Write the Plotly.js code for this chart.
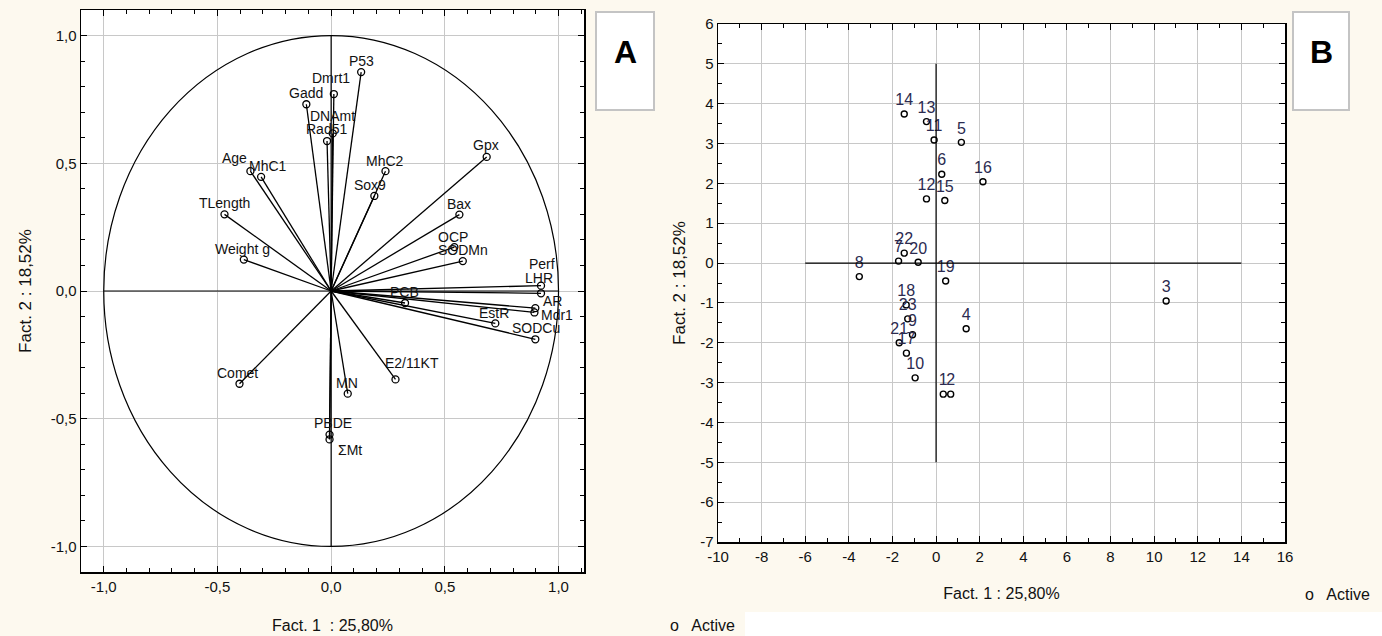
<!DOCTYPE html>
<html>
<head>
<meta charset="utf-8">
<script src="https://cdn.plot.ly/plotly-3.0.1.min.js"></script>
<style>html,body{margin:0;padding:0;background:#fdf9ef;}#chart{width:1382px;height:636px;}</style>
</head>
<body>
<div id="chart"></div>
<script>
// ---------- DATA ----------
// Panel A: variable loadings on factors 1 and 2
const varNames = ['P53','Dmrt1','Gadd','DNAmt','Rad51','Age','MhC1','MhC2','Sox9','TLength','Weight g','Gpx','Bax','OCP','SODMn','Perf','LHR','AR','Mdr1','EstR','SODCu','PCB','Comet','MN','E2/11KT','PBDE','ΣMt'];
const fact1Load = [0.132,0.012,-0.109,0.007,-0.018,-0.355,-0.308,0.239,0.190,-0.469,-0.384,0.684,0.564,0.542,0.579,0.923,0.923,0.898,0.894,0.722,0.898,0.325,-0.403,0.073,0.283,-0.007,-0.007];
const fact2Load = [0.857,0.771,0.731,0.617,0.587,0.469,0.447,0.469,0.372,0.300,0.123,0.525,0.299,0.172,0.117,0.021,-0.009,-0.067,-0.084,-0.127,-0.189,-0.047,-0.363,-0.402,-0.346,-0.562,-0.581];

// Panel B: case scores on factors 1 and 2
const obsLabels = ['1','2','3','4','5','6','7','8','9','10','11','12','13','14','15','16','17','18','19','20','21','22','23'];
const fact1Score = [0.33,0.67,10.55,1.38,1.16,0.26,-1.72,-3.52,-1.08,-0.96,-0.09,-0.44,-0.44,-1.46,0.40,2.15,-1.36,-1.37,0.44,-0.82,-1.69,-1.46,-1.30];
const fact2Score = [-3.29,-3.29,-0.95,-1.65,3.03,2.23,0.05,-0.34,-1.80,-2.88,3.09,1.61,3.55,3.74,1.57,2.04,-2.26,-1.05,-0.45,0.02,-2.00,0.25,-1.40];

// Tick labels
const tickValsA = [-1.0,-0.5,0.0,0.5,1.0];
const tickTextA = ['-1,0','-0,5','0,0','0,5','1,0'];
const tickValsBx = [-10,-8,-6,-4,-2,0,2,4,6,8,10,12,14,16];
const tickTextBx = ['-10','-8','-6','-4','-2','0','2','4','6','8','10','12','14','16'];
const tickValsBy = [-7,-6,-5,-4,-3,-2,-1,0,1,2,3,4,5,6];
const tickTextBy = ['-7','-6','-5','-4','-3','-2','-1','0','1','2','3','4','5','6'];

const xTitle = 'Fact. 1  : 25,80%';
const xTitleB = 'Fact. 1 : 25,80%';
const yTitle = 'Fact. 2 : 18,52%';

// ---------- STYLE ----------
const W = 1382, H = 636;
const px = v => v / W;
const py = v => 1 - v / H;
const CREAM = '#fdf9ef';
const NARROW = '"Liberation Sans Narrow", "Arial Narrow", "Liberation Sans", Arial, sans-serif';
const SANS = '"Liberation Sans", Arial, sans-serif';

// label offsets (px) for panel A labels [dx, dy-up]
const labelOffsetA = {
  'P53':[0,11],'Dmrt1':[-3,16],'Gadd':[0,11],'DNAmt':[0,17],'Rad51':[-1,12],'Age':[-16,13],
  'MhC1':[7,11],'MhC2':[0,10],'Sox9':[-4,11],'TLength':[0,11],'Weight g':[-1,11],'Gpx':[-1,12],
  'Bax':[0,11],'OCP':[-1,10],'SODMn':[0,11],'Perf':[1,22],'LHR':[-2,15],'AR':[17,7],'Mdr1':[23,-3],
  'EstR':[-1,10],'SODCu':[1,11],'PCB':[-1,11],'Comet':[-2,11],'MN':[-1,11],'E2/11KT':[17,16],
  'PBDE':[3,12],'ΣMt':[20,-11]
};

// vectors from origin
const vecX = [], vecY = [];
varNames.forEach((n,i) => { vecX.push(0, fact1Load[i], null); vecY.push(0, fact2Load[i], null); });

const traces = [
  { type:'scatter', mode:'lines', x:vecX, y:vecY, xaxis:'x', yaxis:'y',
    line:{color:'#000', width:1.3}, hoverinfo:'skip', showlegend:false },
  { type:'scatter', mode:'markers', x:fact1Load, y:fact2Load, text:varNames, xaxis:'x', yaxis:'y',
    marker:{symbol:'circle-open', size:7, color:'#000', line:{width:1.3, color:'#000'}},
    showlegend:false, hoverinfo:'text' },
  { type:'scatter', mode:'markers+text', x:fact1Score, y:fact2Score, text:obsLabels, xaxis:'x2', yaxis:'y2',
    textposition:'top center', textfont:{family:SANS, size:16, color:'#2b2b50'},
    marker:{symbol:'circle-open', size:6, color:'#000', line:{width:1.4, color:'#000'}},
    showlegend:false, hoverinfo:'text' }
];

const annotations = varNames.map((n,i) => ({
  x: fact1Load[i], y: fact2Load[i], xref:'x', yref:'y', text:n, showarrow:false,
  xanchor:'center', yanchor:'middle', xshift:labelOffsetA[n][0], yshift:labelOffsetA[n][1],
  font:{family:SANS, size:14, color:'#111'}
}));

// panel tags and legends
annotations.push(
  {xref:'paper', yref:'paper', x:px(625), y:py(52), text:'<b>A</b>', showarrow:false, xanchor:'center', yanchor:'middle', font:{family:SANS, size:32, color:'#000'}},
  {xref:'paper', yref:'paper', x:px(1321), y:py(52), text:'<b>B</b>', showarrow:false, xanchor:'center', yanchor:'middle', font:{family:SANS, size:32, color:'#000'}},
  {xref:'paper', yref:'paper', x:px(668), y:py(625), text:'o   Active', showarrow:false, xanchor:'left', yanchor:'middle', font:{family:NARROW, size:16, color:'#111'}},
  {xref:'paper', yref:'paper', x:px(1303), y:py(594), text:'o   Active', showarrow:false, xanchor:'left', yanchor:'middle', font:{family:NARROW, size:16, color:'#111'}}
);

const shapes = [
  // white areas outside the two pictures
  {type:'rect', xref:'paper', yref:'paper', x0:px(745), x1:1, y0:0, y1:py(612), fillcolor:'#fff', line:{width:0}, layer:'below'},
  // tag boxes
  {type:'rect', xref:'paper', yref:'paper', x0:px(596), x1:px(654), y0:py(110), y1:py(12), fillcolor:'#fff', line:{color:'#c4c4c4', width:2}, layer:'below'},
  {type:'rect', xref:'paper', yref:'paper', x0:px(1293), x1:px(1349), y0:py(110), y1:py(12), fillcolor:'#fff', line:{color:'#c4c4c4', width:2}, layer:'below'},
  // unit circle and axes (panel A)
  {type:'circle', xref:'x', yref:'y', x0:-1, x1:1, y0:-1, y1:1, line:{color:'#000', width:1.2}},
  {type:'line', xref:'x', yref:'y', x0:-1, x1:1, y0:0, y1:0, line:{color:'#000', width:1.2}},
  {type:'line', xref:'x', yref:'y', x0:0, x1:0, y0:-1, y1:1, line:{color:'#000', width:1.2}},
  // cross (panel B)
  {type:'line', xref:'x2', yref:'y2', x0:-6, x1:14, y0:0, y1:0, line:{color:'#000', width:1.2}},
  {type:'line', xref:'x2', yref:'y2', x0:0, x1:0, y0:-5, y1:5, line:{color:'#000', width:1.2}}
];

const axisCommon = {
  showline:true, linecolor:'#000', linewidth:1.5, mirror:'allticks',
  ticks:'inside', ticklen:6, tickcolor:'#000', tickwidth:1,
  showgrid:true, gridcolor:'#c8c8c8', gridwidth:1, zeroline:false,
  tickfont:{family:NARROW, size:15, color:'#111'}, automargin:false, fixedrange:true
};

const layout = {
  width:W, height:H, margin:{l:0,r:0,t:0,b:0},
  paper_bgcolor:CREAM, plot_bgcolor:'#fff', showlegend:false,
  xaxis: Object.assign({}, axisCommon, {
    domain:[px(81), px(584)], range:[-1.1, 1.112], tickmode:'array', tickvals:tickValsA, ticktext:tickTextA,
    minor:{ticks:'inside', ticklen:4, dtick:0.1, tick0:0, tickcolor:'#000', showgrid:false},
    title:{text:xTitle, standoff:26, font:{family:NARROW, size:16, color:'#111'}}, anchor:'y'
  }),
  yaxis: Object.assign({}, axisCommon, {
    domain:[py(572), py(10)], range:[-1.1, 1.1], tickmode:'array', tickvals:tickValsA, ticktext:tickTextA,
    minor:{ticks:'inside', ticklen:4, dtick:0.1, tick0:0, tickcolor:'#000', showgrid:false},
    tickfont:{family:SANS, size:15, color:'#111'},
    title:{text:yTitle, standoff:14, font:{family:SANS, size:17, color:'#111'}}, anchor:'x'
  }),
  xaxis2: Object.assign({}, axisCommon, {
    domain:[px(718), px(1285)], range:[-10, 16], tickmode:'array', tickvals:tickValsBx, ticktext:tickTextBx,
    minor:{ticks:'inside', ticklen:4, dtick:1, tick0:0, tickcolor:'#000', showgrid:false},
    title:{text:xTitleB, standoff:24, font:{family:NARROW, size:16, color:'#111'}}, anchor:'y2'
  }),
  yaxis2: Object.assign({}, axisCommon, {
    domain:[py(542), py(24)], range:[-7, 6], tickmode:'array', tickvals:tickValsBy, ticktext:tickTextBy,
    minor:{ticks:'inside', ticklen:4, dtick:0.5, tick0:0, tickcolor:'#000', showgrid:false},
    tickfont:{family:SANS, size:15, color:'#111'},
    title:{text:yTitle, standoff:10, font:{family:SANS, size:17, color:'#111'}}, anchor:'x2'
  }),
  shapes:shapes, annotations:annotations
};

Plotly.newPlot('chart', traces, layout, {displayModeBar:false, staticPlot:true});
</script>
</body>
</html>
